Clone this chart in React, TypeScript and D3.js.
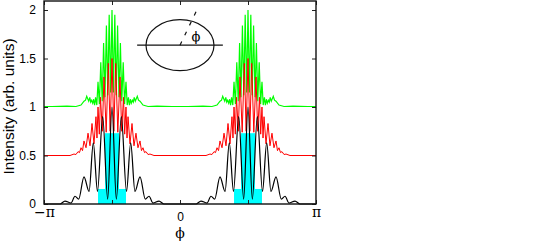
import React, { useEffect, useRef } from "react";
import * as d3 from "d3";

const PI = Math.PI;

// each lobe: distance from lobe centre (rad) -> intensity
const blackOffsets = [0, 0.1, 0.215, 0.335, 0.432, 0.53, 0.647, 0.77, 0.855, 0.947, 1.086, 1.2, 1.571];
const blackValues = [1.0, 0.05, 0.9, 0.13, 0.63, 0.13, 0.28, 0.05, 0.08, 0.01, 0.03, 0.0, 0.0];

const redOffsets = [
  0, 0.043, 0.085, 0.134, 0.185, 0.224, 0.266, 0.293, 0.323, 0.347, 0.37, 0.416, 0.462, 0.508, 0.554, 0.6, 0.647,
  0.681, 0.716, 0.751, 0.785, 0.832, 0.878, 0.97, 1.571,
];
const redValues = [
  1.5, 0.75, 1.45, 0.74, 1.31, 0.75, 1.1, 0.72, 1.0, 0.68, 0.9, 0.62, 0.83, 0.6, 0.73, 0.58, 0.65, 0.55, 0.58, 0.53,
  0.54, 0.51, 0.515, 0.5, 0.5,
];

const greenOffsets = [
  0, 0.032, 0.065, 0.097, 0.129, 0.162, 0.194, 0.226, 0.259, 0.291, 0.323, 0.351, 0.379, 0.402, 0.425, 0.446, 0.471,
  0.492, 0.513, 0.538, 0.584, 0.612, 0.647, 0.716, 0.832, 1.04, 1.386, 1.571,
];
const greenValues = [
  2.0, 1.15, 1.95, 1.12, 1.84, 1.1, 1.66, 1.06, 1.46, 1.03, 1.26, 1.02, 1.1, 1.02, 1.08, 1.04, 1.07, 1.05, 1.1, 1.06,
  1.11, 1.07, 1.06, 1.02, 1.005, 1.01, 1.005, 1.005,
];

const lobeCentres = [-PI / 2, PI / 2];

// cyan steps: half width from lobe centre and height
const stepHalfWidths = [0.323, 0.162];
const stepHeights = [0.155, 0.73];

const yTicks = [0, 0.5, 1, 1.5, 2];
const xTicks = [-PI, -PI / 2, 0, PI / 2, PI];
const xTickLabels = ["\u2212\u03c0", "", "0", "", "\u03c0"];

const SANS = "'Liberation Sans', Arial, sans-serif";
const SERIF = "'DejaVu Serif', serif";

const buildCurve = (offsets: number[], values: number[]): [number, number][] => {
  const pts: [number, number][] = [];
  lobeCentres.forEach((c) => {
    for (let i = offsets.length - 1; i > 0; i--) pts.push([c - offsets[i], values[i]]);
    offsets.forEach((o, i) => pts.push([c + o, values[i]]));
  });
  return pts;
};

const App = () => {
  const svgRef = useRef<SVGSVGElement>(null);

  useEffect(() => {
    const svg = d3.select(svgRef.current);
    svg.selectAll("*").remove();

    const x = d3.scaleLinear().domain([-PI, PI]).range([44, 316]);
    const y = d3.scaleLinear().domain([0, 2]).range([204, 10]);
    const top = 1;
    const bottom = 204;

    const line = d3
      .line<[number, number]>()
      .x((d) => x(d[0]))
      .y((d) => y(d[1]));

    // Curves
    svg
      .append("path")
      .attr("d", line(buildCurve(greenOffsets, greenValues)))
      .attr("fill", "none")
      .attr("stroke", "#00ff00")
      .attr("stroke-width", 1.2);
    svg
      .append("path")
      .attr("d", line(buildCurve(redOffsets, redValues)))
      .attr("fill", "none")
      .attr("stroke", "#ff0000")
      .attr("stroke-width", 1);

    // Cyan steps
    lobeCentres.forEach((c) => {
      stepHalfWidths.forEach((w, i) => {
        svg
          .append("rect")
          .attr("x", x(c - w))
          .attr("width", x(c + w) - x(c - w))
          .attr("y", y(stepHeights[i]))
          .attr("height", y(0) - y(stepHeights[i]))
          .attr("fill", "#00ffff");
      });
    });

    svg
      .append("path")
      .attr("d", line.curve(d3.curveMonotoneX)(buildCurve(blackOffsets, blackValues)))
      .attr("fill", "none")
      .attr("stroke", "#000")
      .attr("stroke-width", 1.2);

    // Ticks, all four sides
    const styleAxis = (g: any) => {
      g.select(".domain").remove();
      g.selectAll("line").attr("stroke", "#222");
    };
    svg
      .append("g")
      .attr("transform", `translate(0,${bottom})`)
      .call(d3.axisBottom(x).tickValues(xTicks).tickSize(-4).tickFormat((_, i) => xTickLabels[i]))
      .call(styleAxis)
      .selectAll("text")
      .attr("font-family", (_, i) => (i === 2 ? SANS : SERIF))
      .attr("font-size", (_, i) => (i === 2 ? 12 : 14))
      .attr("dy", null)
      .attr("y", (_, i) => (i === 2 ? 17 : 13))
      .attr("fill", "#000");
    svg
      .append("g")
      .attr("transform", `translate(0,${top})`)
      .call(d3.axisTop(x).tickValues(xTicks).tickSize(-4).tickFormat(() => ""))
      .call(styleAxis);
    svg
      .append("g")
      .attr("transform", "translate(44,0)")
      .call(d3.axisLeft(y).tickValues(yTicks).tickSize(-4).tickPadding(8).tickFormat(d3.format("")))
      .call(styleAxis)
      .selectAll("text")
      .attr("font-family", SANS)
      .attr("font-size", 12)
      .attr("fill", "#000");
    svg
      .append("g")
      .attr("transform", "translate(316,0)")
      .call(d3.axisRight(y).tickValues(yTicks).tickSize(-4).tickFormat(() => ""))
      .call(styleAxis);

    // Frame
    svg
      .append("rect")
      .attr("x", x(-PI))
      .attr("y", top)
      .attr("width", x(PI) - x(-PI))
      .attr("height", bottom - top)
      .attr("fill", "none")
      .attr("stroke", "#111")
      .attr("stroke-width", 1.4);

    // Inset ellipse
    const insetY = 1.637;
    svg
      .append("ellipse")
      .attr("cx", x(0))
      .attr("cy", y(insetY))
      .attr("rx", x(PI / 4) - x(0))
      .attr("ry", y(insetY - 0.263) - y(insetY))
      .attr("fill", "none")
      .attr("stroke", "#111")
      .attr("stroke-width", 1.2);
    svg
      .append("line")
      .attr("x1", x(-0.99))
      .attr("x2", x(0.99))
      .attr("y1", y(insetY))
      .attr("y2", y(insetY))
      .attr("stroke", "#111")
      .attr("stroke-width", 1.2);
    svg
      .append("line")
      .attr("x1", x(0))
      .attr("y1", y(insetY))
      .attr("x2", x(0.39))
      .attr("y2", y(2.0))
      .attr("stroke", "#111")
      .attr("stroke-width", 1.2)
      .attr("stroke-dasharray", "4 7");
    svg
      .append("text")
      .attr("x", x(0.37))
      .attr("y", y(1.68))
      .attr("text-anchor", "middle")
      .attr("font-family", SERIF)
      .attr("font-size", 13)
      .text("\u03d5");

    // Axis titles
    svg
      .append("text")
      .attr("x", x(0))
      .attr("y", 238)
      .attr("text-anchor", "middle")
      .attr("font-family", SERIF)
      .attr("font-size", 14)
      .text("\u03d5");
    svg
      .append("text")
      .attr("transform", `translate(13.5,106.5) rotate(-90)`)
      .attr("text-anchor", "middle")
      .attr("font-family", SANS)
      .attr("font-size", 15.5)
      .text("Intensity (arb. units)");
  }, []);

  return (
    <svg
      ref={svgRef}
      width={545}
      height={246}
      style={{ position: "absolute", left: 0, top: 0, background: "#fff" }}
    />
  );
};

export default App;
